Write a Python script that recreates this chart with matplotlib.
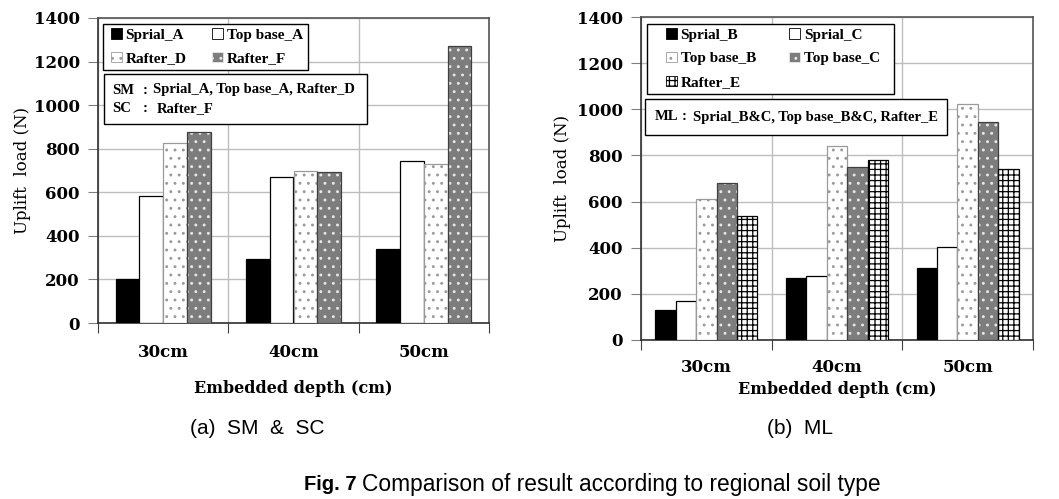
import matplotlib
matplotlib.use("Agg")
import matplotlib.pyplot as plt
import numpy as np
from matplotlib.patches import Patch, Rectangle

plt.rcParams['hatch.linewidth'] = 0.9

categories = ["30cm", "40cm", "50cm"]

# (a) SM & SC
left_names = ["Sprial_A", "Top base_A", "Rafter_D", "Rafter_F"]
sprial_a = [200, 295, 338]
top_base_a = [582, 670, 743]
rafter_d = [826, 697, 731]
rafter_f = [877, 693, 1271]

# (b) ML
right_names = ["Sprial_B", "Sprial_C", "Top base_B", "Top base_C", "Rafter_E"]
sprial_b = [128, 270, 314]
sprial_c = [170, 276, 405]
top_base_b = [613, 843, 1025]
top_base_c = [680, 749, 947]
rafter_e = [539, 782, 743]

yticks = [0, 200, 400, 600, 800, 1000, 1200, 1400]

# styles: (facecolor, hatch, hatchcolor, edgecolor)
STY = {
    "black": ("black", None, None, "black"),
    "white": ("white", None, None, "black"),
    "dots": ("white", "..", "#9a9a9a", "#9a9a9a"),
    "gray": ("#7d7d7d", "..", "#e8e8e8", "#404040"),
    "grid": ("white", "+++", "black", "black"),
}

SERIF = "DejaVu Serif"
LSERIF = ["Liberation Serif", "DejaVu Serif"]

W, H = 1059, 499
fig = plt.figure(figsize=(W / 100, H / 100), dpi=100)


def fx(px):
    return px / W


def fy(py):
    return 1 - py / H


def draw_bars(ax, x, vals, width, style):
    fc, hatch, hc, ec = STY[style]
    if hatch:
        ax.bar(x, vals, width, color=fc, hatch=hatch, edgecolor=hc, linewidth=0, zorder=3)
        ax.bar(x, vals, width, fill=False, edgecolor=ec, linewidth=0.9, zorder=4)
    else:
        ax.bar(x, vals, width, color=fc, edgecolor=ec, linewidth=0.9, zorder=3)


def style_axes(ax):
    ax.set_xlim(-0.5, 2.5)
    ax.set_ylim(0, 1400)
    ax.set_yticks(yticks)
    ax.set_yticklabels([str(v) for v in yticks], fontfamily=SERIF, fontweight="bold", fontsize=12)
    ax.set_xticks([-0.5, 0.5, 1.5, 2.5])
    ax.set_xticklabels([])
    ax.set_xticks([0, 1, 2], minor=True)
    ax.set_xticklabels(categories, minor=True, fontfamily=SERIF, fontweight="bold", fontsize=12)
    ax.tick_params(axis="x", which="minor", length=0)
    ax.tick_params(axis="x", which="major", length=7, color="#404040", direction="out")
    ax.tick_params(axis="y", length=7, color="#808080", direction="out", pad=6)
    ax.grid(True, which="major", color="#bdbdbd", linewidth=1.0, zorder=0)
    ax.set_axisbelow(True)
    for s in ["left", "bottom"]:
        ax.spines[s].set_color("#303030")
        ax.spines[s].set_linewidth(1.2)
    for s in ["top", "right"]:
        ax.spines[s].set_color("#555555")
        ax.spines[s].set_linewidth(1.2)
    ax.set_ylabel("Uplift  load (N)", fontfamily=SERIF, fontsize=12)


def handles(styles):
    hs = []
    for st in styles:
        fc, hatch, hc, ec = STY[st]
        hs.append(Patch(facecolor=fc, hatch=hatch, edgecolor=(hc if hatch else ec), linewidth=0.6))
    return hs


def frame(x0, y0, x1, y1):
    r = Rectangle((fx(x0), fy(y1)), fx(x1) - fx(x0), fy(y0) - fy(y1), transform=fig.transFigure,
                  facecolor="white", edgecolor="black", linewidth=1.0, zorder=8)
    fig.add_artist(r)


def make_legend(hs, names, anchor_px, colspacing):
    leg = fig.legend(hs, names, ncol=2, loc="upper left",
                     bbox_to_anchor=(fx(anchor_px[0]), fy(anchor_px[1])),
                     bbox_transform=fig.transFigure, frameon=False, borderpad=0,
                     borderaxespad=0, handlelength=0.7, handleheight=0.7, handletextpad=0.25,
                     columnspacing=colspacing, labelspacing=0.66,
                     prop={"family": LSERIF, "weight": "bold", "size": 11})
    leg.set_zorder(9)
    return leg


x = np.arange(len(categories))

# ---------- left ----------
axL = fig.add_axes([fx(98), fy(323), fx(489) - fx(98), fy(18) - fy(323)])
wL = 0.182
left_vals = [sprial_a, top_base_a, rafter_d, rafter_f]
left_sty = ["black", "white", "dots", "gray"]
for i, (v, st) in enumerate(zip(left_vals, left_sty)):
    draw_bars(axL, x + (i - 1.5) * wL, v, wL, st)
style_axes(axL)
axL.tick_params(axis="x", which="minor", pad=15)
axL.set_xlabel("Embedded depth (cm)", fontfamily=SERIF, fontweight="bold", fontsize=11.5, labelpad=14)
axL.yaxis.set_label_coords(-0.172, 0.5)

frame(103, 24, 308, 70)
# legend order so that rows read: Sprial_A, Top base_A / Rafter_D, Rafter_F
ordL = [0, 2, 1, 3]
make_legend([handles(left_sty)[k] for k in ordL], [left_names[k] for k in ordL],
            (111, 28), 1.67)

frame(104, 74, 367, 124)
for (lab, val, vx, yy) in [("SM", "Sprial_A, Top base_A, Rafter_D", 153, 90),
                           ("SC", "Rafter_F", 157, 109)]:
    fig.text(fx(112), fy(yy), lab, ha="left", va="center", fontfamily=LSERIF, fontweight="bold",
             fontsize=10.5, zorder=10)
    fig.text(fx(143), fy(yy), ":", ha="left", va="center", fontfamily=LSERIF, fontweight="bold",
             fontsize=10.5, zorder=10)
    fig.text(fx(vx), fy(yy), val, ha="left", va="center", fontfamily=LSERIF, fontweight="bold",
             fontsize=10.5, zorder=10)

# ---------- right ----------
axR = fig.add_axes([fx(641), fy(340), fx(1033) - fx(641), fy(17) - fy(340)])
wR = 0.156
right_vals = [sprial_b, sprial_c, top_base_b, top_base_c, rafter_e]
right_sty = ["black", "white", "dots", "gray", "grid"]
for i, (v, st) in enumerate(zip(right_vals, right_sty)):
    draw_bars(axR, x + (i - 2) * wR, v, wR, st)
style_axes(axR)
axR.tick_params(axis="x", which="minor", pad=14)
axR.set_xlabel("Embedded depth (cm)", fontfamily=SERIF, fontweight="bold", fontsize=11.5, labelpad=3)
axR.yaxis.set_label_coords(-0.178, 0.5)

frame(647, 24, 894, 94)
# rows: Sprial_B, Sprial_C / Top base_B, Top base_C / Rafter_E
ordR = [0, 2, 4, 1, 3]
make_legend([handles(right_sty)[k] for k in ordR], [right_names[k] for k in ordR],
            (666, 28), 2.2)

frame(645, 99, 947, 135)
fig.text(fx(655), fy(117), "ML", ha="left", va="center", fontfamily=LSERIF, fontweight="bold",
         fontsize=10.5, zorder=10)
fig.text(fx(682), fy(117), ":", ha="left", va="center", fontfamily=LSERIF, fontweight="bold",
         fontsize=10.5, zorder=10)
fig.text(fx(693), fy(117), "Sprial_B&C, Top base_B&C, Rafter_E", ha="left", va="center",
         fontfamily=LSERIF, fontweight="bold", fontsize=10.5, zorder=10)

# ---------- captions ----------
SANS = ["Liberation Sans", "DejaVu Sans"]
fig.text(fx(257), fy(428), "(a)  SM  &  SC", ha="center", va="center", fontfamily=SANS, fontsize=15)
fig.text(fx(800), fy(428), "(b)  ML", ha="center", va="center", fontfamily=SANS, fontsize=15)
fig.text(fx(357), fy(484), "Fig. 7", ha="right", va="center", fontfamily=SANS,
         fontweight="bold", fontsize=14.5)
fig.text(fx(362), fy(484), "Comparison of result according to regional soil type", ha="left",
         va="center", fontfamily=SANS, fontsize=16.4)

fig.savefig("out.png", dpi=100, facecolor="white")
